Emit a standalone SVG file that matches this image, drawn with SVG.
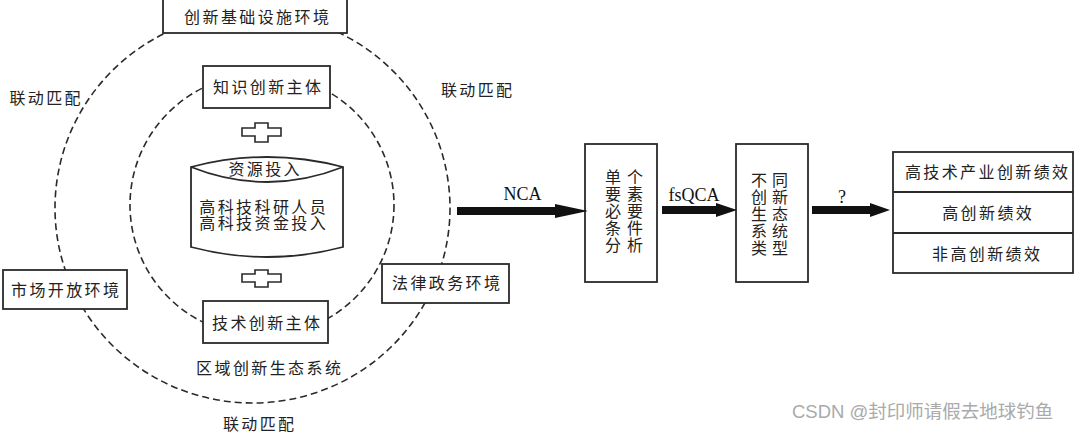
<svg xmlns="http://www.w3.org/2000/svg" width="1080" height="432" viewBox="0 0 1080 432">
<style>
.box{fill:#fff;stroke:#2a2a2a;stroke-width:1.8}
.dash{fill:none;stroke:#2a2a2a;stroke-width:1.6;stroke-dasharray:7 4}
.t{font-family:"Liberation Serif","Noto Sans CJK SC",serif;font-size:16px;letter-spacing:2.4px;fill:#222;text-anchor:middle;dominant-baseline:central}
.v{font-family:"Liberation Serif","Noto Sans CJK SC",serif;font-size:16px;fill:#222;text-anchor:middle;dominant-baseline:central}
.lat{font-family:"Liberation Serif",serif;font-size:18px;fill:#111;text-anchor:middle}
.wm{font-family:"Liberation Sans","Noto Sans CJK SC",sans-serif;font-size:18.5px;fill:#aaa}
.shaft{stroke:#111;stroke-width:8;fill:none}
.head{fill:#111}
.plus{fill:#fff;stroke:#2a2a2a;stroke-width:1.6}
</style>
<g id="ecosystem">
<ellipse id="outer-ring" class="dash" cx="252.5" cy="208" rx="197.5" ry="195"/>
<ellipse id="inner-ring" class="dash" cx="262" cy="205" rx="132" ry="131"/>
</g>
<g id="labels-linkage">
<text class="t" x="46.2" y="98">联动匹配</text>
<text class="t" x="477.7" y="90">联动匹配</text>
<text class="t" x="259.7" y="424">联动匹配</text>
<text class="t" x="269.7" y="368">区域创新生态系统</text>
</g>
<g id="node-infrastructure">
<rect class="box" x="163" y="-1" width="184" height="34"/>
<text class="t" x="257.7" y="17">创新基础设施环境</text>
</g>
<g id="node-market">
<rect class="box" x="3" y="270" width="124" height="39"/>
<text class="t" x="66.2" y="290">市场开放环境</text>
</g>
<g id="node-legal">
<rect class="box" x="382" y="264" width="127" height="39"/>
<text class="t" x="447.2" y="283">法律政务环境</text>
</g>
<g id="node-knowledge">
<rect class="box" x="203" y="66" width="127" height="42"/>
<text class="t" x="268.2" y="87">知识创新主体</text>
</g>
<g id="plus-1">
<path class="plus" d="M255,123 H268 V128 H281 V136 H268 V142 H255 V136 H242 V128 H255 Z"/>
</g>
<g id="node-resources">
<path class="box" d="M191,167 Q267,147 343,167 V247 Q267,267 191,247 Z"/>
<path fill="none" stroke="#2a2a2a" stroke-width="1.8" d="M191,167 Q267,197 343,167"/>
<text class="t" x="265.2" y="169">资源投入</text>
<text class="t" x="263.7" y="207">高科技科研人员</text>
<text class="t" x="263.7" y="223">高科技资金投入</text>
</g>
<g id="plus-2">
<path class="plus" d="M255,270 H268 V274 H281 V282 H268 V287 H255 V282 H242 V274 H255 Z"/>
</g>
<g id="node-technology">
<rect class="box" x="203" y="301" width="125" height="42"/>
<text class="t" x="267.2" y="323">技术创新主体</text>
</g>
<g id="node-nca">
<rect class="box" x="585" y="144" width="72" height="138"/>
<text class="v" letter-spacing="6" x="627" y="177">单个</text>
<text class="v" letter-spacing="6" x="627" y="194">要素</text>
<text class="v" letter-spacing="6" x="627" y="211">必要</text>
<text class="v" letter-spacing="6" x="627" y="228">条件</text>
<text class="v" letter-spacing="6" x="627" y="245">分析</text>
</g>
<g id="node-types">
<rect class="box" x="736" y="144" width="72" height="138"/>
<text class="v" letter-spacing="5" x="772" y="180">不同</text>
<text class="v" letter-spacing="5" x="772" y="197">创新</text>
<text class="v" letter-spacing="5" x="772" y="214">生态</text>
<text class="v" letter-spacing="5" x="772" y="231">系统</text>
<text class="v" letter-spacing="5" x="772" y="248">类型</text>
</g>
<g id="node-performance">
<rect class="box" x="893" y="152" width="180" height="121"/>
<line stroke="#2a2a2a" stroke-width="1.8" x1="893" y1="192" x2="1073" y2="192"/>
<line stroke="#2a2a2a" stroke-width="1.8" x1="893" y1="233" x2="1073" y2="233"/>
<text class="t" x="987.7" y="172">高技术产业创新绩效</text>
<text class="t" x="988.2" y="213">高创新绩效</text>
<text class="t" x="987.2" y="254">非高创新绩效</text>
</g>
<g id="connectors">
<line class="shaft" x1="457" y1="211" x2="558" y2="211"/>
<polygon class="head" points="555,204 588,211 555,218"/>
<text class="lat" x="522.5" y="200">NCA</text>
<line class="shaft" x1="662" y1="210" x2="718" y2="210"/>
<polygon class="head" points="716,203 737,210 716,217"/>
<text class="lat" x="694" y="201">fsQCA</text>
<line class="shaft" x1="812" y1="210" x2="873" y2="210"/>
<polygon class="head" points="870,203 890,210 870,217"/>
<text class="lat" font-size="15" x="842" y="203">?</text>
</g>
<text class="wm" x="792" y="418">CSDN @封印师请假去地球钓鱼</text>
</svg>
